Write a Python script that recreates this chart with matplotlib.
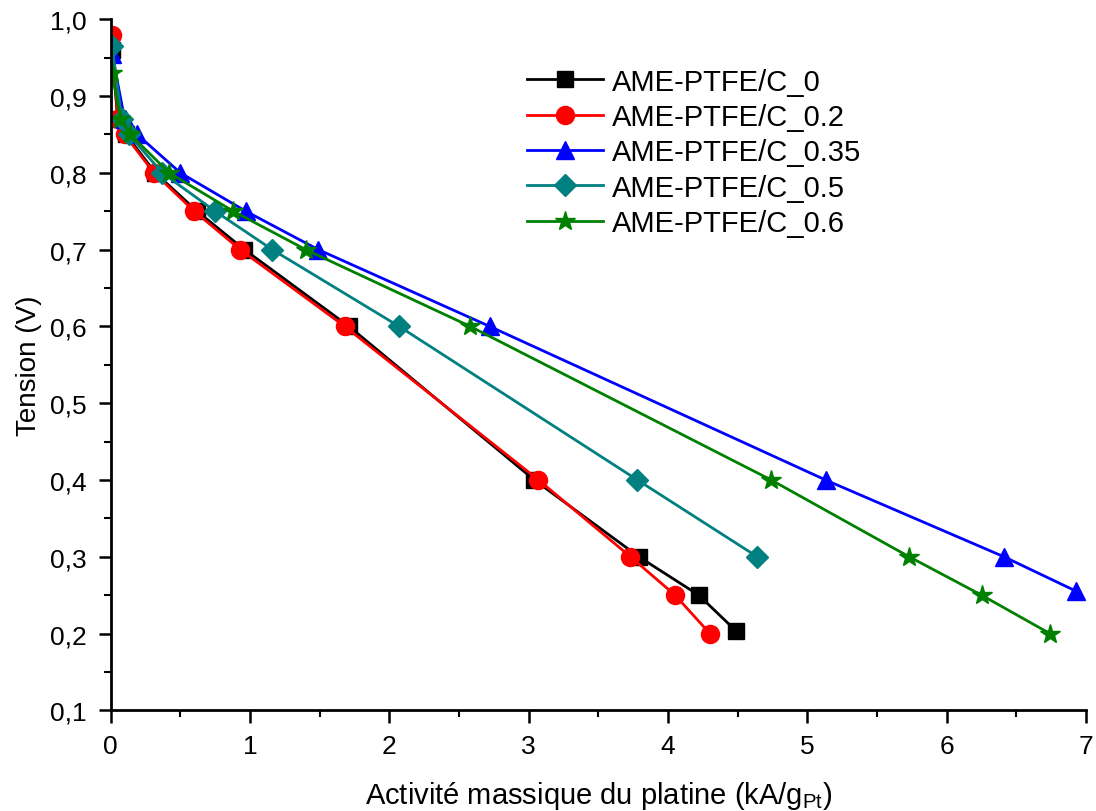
import matplotlib
matplotlib.use("Agg")
import matplotlib.pyplot as plt
from matplotlib.ticker import FuncFormatter, MultipleLocator

plt.rcParams["font.family"] = ["Liberation Sans", "DejaVu Sans"]
plt.rcParams["mathtext.fontset"] = "custom"
plt.rcParams["mathtext.rm"] = "Liberation Sans"
plt.rcParams["mathtext.it"] = "Liberation Sans"

labels = ["AME-PTFE/C_0", "AME-PTFE/C_0.2", "AME-PTFE/C_0.35",
          "AME-PTFE/C_0.5", "AME-PTFE/C_0.6"]

x_c0 = [0.01, 0.05, 0.11, 0.32, 0.62, 0.96, 1.71, 3.04, 3.79, 4.22, 4.49]
y_c0 = [0.96, 0.87, 0.85, 0.80, 0.75, 0.70, 0.60, 0.40, 0.30, 0.25, 0.203]

x_c02 = [0.01, 0.05, 0.10, 0.31, 0.60, 0.93, 1.68, 3.07, 3.73, 4.05, 4.30]
y_c02 = [0.98, 0.87, 0.85, 0.80, 0.75, 0.70, 0.60, 0.40, 0.30, 0.25, 0.20]

x_c035 = [0.01, 0.10, 0.19, 0.50, 0.97, 1.49, 2.72, 5.13, 6.41, 6.93]
y_c035 = [0.955, 0.87, 0.85, 0.80, 0.75, 0.70, 0.60, 0.40, 0.30, 0.255]

x_c05 = [0.01, 0.08, 0.13, 0.37, 0.75, 1.16, 2.07, 3.78, 4.64]
y_c05 = [0.965, 0.87, 0.85, 0.80, 0.75, 0.70, 0.60, 0.40, 0.30]

x_c06 = [0.01, 0.07, 0.14, 0.42, 0.88, 1.40, 2.58, 4.74, 5.73, 6.25, 6.74]
y_c06 = [0.93, 0.87, 0.85, 0.80, 0.75, 0.70, 0.60, 0.40, 0.30, 0.25, 0.20]

series = [
    (x_c0, y_c0, "black", "s", 11),
    (x_c02, y_c02, "red", "o", 13),
    (x_c035, y_c035, "blue", "^", 13),
    (x_c05, y_c05, "#008080", "D", 11),
    (x_c06, y_c06, "green", "*", 15),
]

fig = plt.figure(figsize=(10.96, 8.12), dpi=100)
ax = fig.add_axes([0.101, 0.124, 0.89, 0.851])

for (xs, ys, color, marker, ms), label in zip(series, labels):
    ax.plot(xs, ys, color=color, marker=marker, markersize=ms,
            linewidth=2, label=label)

ax.set_xlim(0, 7)
ax.set_ylim(0.1, 1.0)
ax.xaxis.set_major_locator(MultipleLocator(1))
ax.xaxis.set_minor_locator(MultipleLocator(0.5))
ax.yaxis.set_major_locator(MultipleLocator(0.1))
ax.yaxis.set_minor_locator(MultipleLocator(0.05))
ax.yaxis.set_major_formatter(FuncFormatter(lambda v, p: f"{v:.1f}".replace(".", ",")))

for side in ("top", "right"):
    ax.spines[side].set_visible(False)
for side in ("left", "bottom"):
    ax.spines[side].set_linewidth(2)

ax.tick_params(which="major", direction="out", length=9, width=1.8,
               labelsize=19, pad=8)
ax.tick_params(which="minor", direction="out", length=5, width=1.5)

ax.set_xlabel("Activité massique du platine (kA/g$_{\\mathrm{Pt}}$)", fontsize=21, labelpad=15)
ax.set_ylabel("Tension (V)", fontsize=20, labelpad=6)

ax.legend(loc="upper left", bbox_to_anchor=(0.4, 0.968), frameon=False,
          fontsize=21, handlelength=2.6, labelspacing=0.25, handletextpad=0.3)

fig.savefig("out.png", dpi=100, facecolor="white")
